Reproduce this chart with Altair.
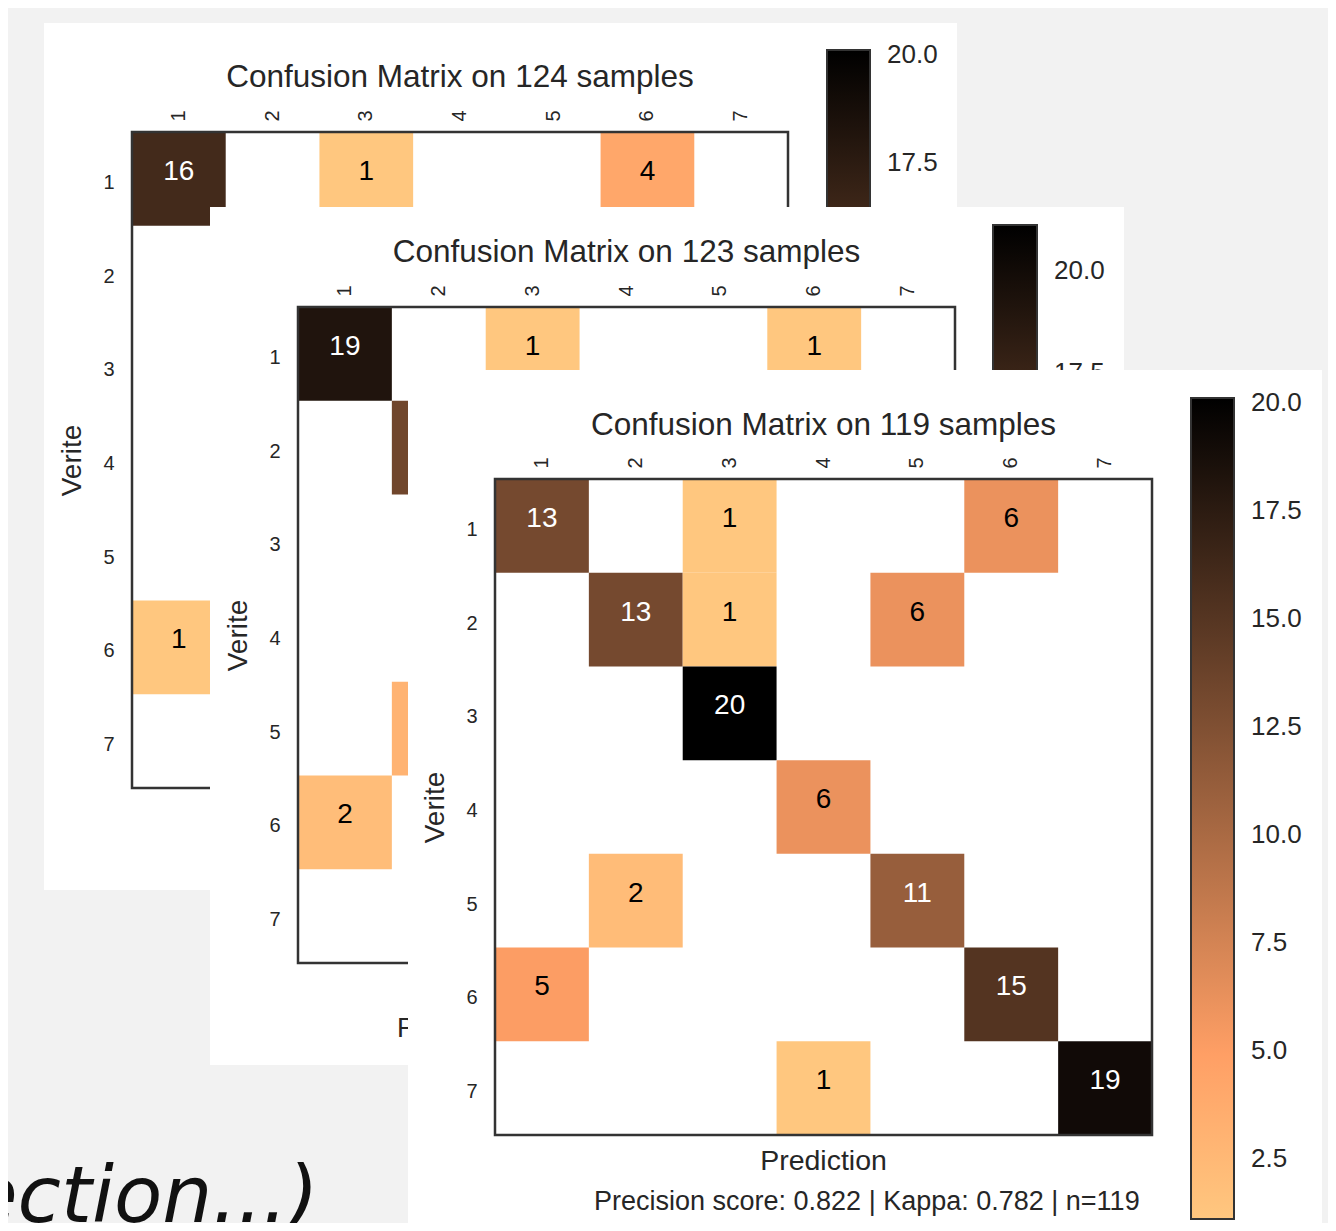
import altair as alt
import pandas as pd

OFF = 8
W, H = 1320, 1215
FONT = "Liberation Sans"
INK = "#262626"
FRAME = "#333333"

CLASS_LABELS = [1, 2, 3, 4, 5, 6, 7]
CB_TICKS = [2.5, 5.0, 7.5, 10.0, 12.5, 15.0, 17.5, 20.0]
# colorbar labels that are not hidden behind the next panel
CB_TICKS_VISIBLE = [17.5, 20.0]

# panel 1: "124 samples" (only the visible cells)
P1_ROW = [1, 1, 1, 6]
P1_COL = [1, 3, 6, 1]
P1_VAL = [16, 1, 4, 1]
P1_CB = [1, 20]

# panel 2: "123 samples" (only the visible cells)
P2_ROW = [1, 1, 1, 2, 5, 6]
P2_COL = [1, 3, 6, 2, 2, 1]
P2_VAL = [19, 1, 1, 14, 3, 2]
P2_CB = [1, 21]

# panel 3: "119 samples"
P3_ROW = [1, 1, 1, 2, 2, 2, 3, 4, 5, 5, 6, 6, 7, 7]
P3_COL = [1, 3, 6, 2, 3, 5, 3, 4, 2, 5, 1, 6, 4, 7]
P3_VAL = [13, 1, 6, 13, 1, 6, 20, 6, 2, 11, 5, 15, 1, 19]
P3_CB = [1, 20]

TITLES = ["Confusion Matrix on 124 samples",
          "Confusion Matrix on 123 samples",
          "Confusion Matrix on 119 samples"]
NOTES = ["Precision score: \u2026 | Kappa: \u2026 | n=124",
         "Precision score: \u2026 | Kappa: \u2026 | n=123",
         "Precision score: 0.822 | Kappa: 0.782 | n=119"]
X_TITLE = "Prediction"
Y_TITLE = "Verite"
SLIDE_TEXT = "ection...)"

COPPER = ["#ffc77f", "#ff9f65", "#000000"]

# layout (page pixel coordinates)
LAYOUT = [
    dict(bg=(44, 23, 957, 890), mat=(132, 132, 788, 788), cbox=(827, 50, 870, 869),
         title_dy=45, pred_dy=35, note_dy=75),
    dict(bg=(210, 207, 1124, 1065), mat=(298, 307, 955, 963), cbox=(993, 225, 1037, 1044),
         title_dy=45, pred_dy=35, note_dy=74),
    dict(bg=(408, 370, 1322, 1260), mat=(495, 479, 1152, 1135), cbox=(1191, 398, 1234, 1219),
         title_dy=44, pred_dy=35, note_dy=75),
]


def px(v):
    return v - OFF


def gradient():
    return alt.LinearGradient(
        gradient="linear", x1=0, x2=0, y1=1, y2=0,
        stops=[alt.GradientStop(offset=0, color=COPPER[0]),
               alt.GradientStop(offset=0.2, color=COPPER[1]),
               alt.GradientStop(offset=1, color=COPPER[2])])


def panel_layers(rows, cols, vals, cb, ticks, title, note, lay):
    bx0, by0, bx1, by1 = lay["bg"]
    mx0, my0, mx1, my1 = lay["mat"]
    cx0, cy0, cx1, cy1 = lay["cbox"]
    vmin, vmax = cb
    one = pd.DataFrame({"k": [0]})
    out = []

    # white panel background
    out.append(alt.Chart(one).mark_rect(color="white").encode(
        x=alt.value(px(bx0)), x2=alt.value(px(bx1)),
        y=alt.value(px(by0)), y2=alt.value(px(by1))))

    cells = pd.DataFrame({"Prediction": cols, "Verite": rows, "n": vals})
    cells["tc"] = ["white" if v >= 10 else "black" for v in vals]

    xs = alt.Scale(domain=CLASS_LABELS, range=[px(mx0), px(mx1)],
                   paddingInner=0, paddingOuter=0)
    ys = alt.Scale(domain=CLASS_LABELS, range=[px(my0), px(my1)],
                   paddingInner=0, paddingOuter=0)
    cs = alt.Scale(domain=[vmin, vmin + 0.2 * (vmax - vmin), vmax],
                   range=COPPER, interpolate="rgb")

    xaxis = alt.Axis(orient="top", offset=-px(my0), labelAngle=270,
                     labelAlign="left", labelBaseline="middle", labelPadding=11,
                     labelFont=FONT, labelFontSize=20, labelColor=INK,
                     domain=False, ticks=False, tickSize=0, grid=False,
                     title=None, zindex=1)
    yaxis = alt.Axis(orient="left", offset=-px(mx0), labelPadding=18,
                     labelOffset=4, labelFont=FONT, labelFontSize=20,
                     labelColor=INK, domain=False, ticks=False, tickSize=0,
                     grid=False, title=Y_TITLE, titleFont=FONT,
                     titleFontSize=28, titleFontWeight="normal",
                     titleColor=INK, titleAngle=270,
                     titleBaseline="alphabetic", titlePadding=22, zindex=1)

    out.append(alt.Chart(cells).mark_rect().encode(
        x=alt.X("Prediction:O", scale=xs, axis=xaxis),
        y=alt.Y("Verite:O", scale=ys, axis=yaxis),
        color=alt.Color("n:Q", scale=cs, legend=None)))

    out.append(alt.Chart(cells).mark_text(font=FONT, fontSize=28, dy=-7).encode(
        x=alt.X("Prediction:O", scale=xs, axis=None),
        y=alt.Y("Verite:O", scale=ys, axis=None),
        text=alt.Text("n:Q"),
        color=alt.Color("tc:N", scale=None)))

    # matrix frame
    out.append(alt.Chart(one).mark_rect(fillOpacity=0, stroke=FRAME,
                                        strokeWidth=2.5).encode(
        x=alt.value(px(mx0)), x2=alt.value(px(mx1)),
        y=alt.value(px(my0)), y2=alt.value(px(my1))))

    # title
    out.append(alt.Chart(pd.DataFrame({"label": [title]})).mark_text(
        font=FONT, fontSize=31.5, align="center", baseline="alphabetic",
        color=INK).encode(
        x=alt.value(px((mx0 + mx1) / 2)), y=alt.value(px(my0 - lay["title_dy"])),
        text="label:N"))

    # x title and score line
    out.append(alt.Chart(pd.DataFrame({"label": [X_TITLE]})).mark_text(
        font=FONT, fontSize=28.5, align="center", baseline="alphabetic",
        color=INK).encode(
        x=alt.value(px((mx0 + mx1) / 2)), y=alt.value(px(my1 + lay["pred_dy"])),
        text="label:N"))
    out.append(alt.Chart(pd.DataFrame({"label": [note]})).mark_text(
        font=FONT, fontSize=27, align="left", baseline="alphabetic",
        color=INK).encode(
        x=alt.value(px(mx0 + 99)), y=alt.value(px(my1 + lay["note_dy"])),
        text="label:N"))

    # colorbar
    cbs = alt.Scale(domain=[vmin, vmax], range=[px(cy1), px(cy0)],
                    nice=False, zero=False)
    out.append(alt.Chart(pd.DataFrame({"lo": [vmin], "hi": [vmax]})).mark_rect(
        fill=gradient(), stroke=FRAME, strokeWidth=2).encode(
        x=alt.value(px(cx0)), x2=alt.value(px(cx1)),
        y=alt.Y("lo:Q", scale=cbs, axis=None), y2="hi:Q"))
    out.append(alt.Chart(pd.DataFrame({"t": ticks})).mark_text(
        font=FONT, fontSize=26, align="left", baseline="middle", dy=5,
        color=INK).encode(
        x=alt.value(px(cx1 + 17)),
        y=alt.Y("t:Q", scale=cbs, axis=None),
        text=alt.Text("t:Q", format=".1f")))
    return out


layers = []
layers.append(alt.Chart(pd.DataFrame({"label": [SLIDE_TEXT]})).mark_text(
    font="DejaVu Sans", fontStyle="italic", fontSize=79, align="left",
    baseline="alphabetic", color="#111111").encode(
    x=alt.value(px(-31)), y=alt.value(px(1222)), text="label:N"))

DATA = [(P1_ROW, P1_COL, P1_VAL, P1_CB, CB_TICKS_VISIBLE),
        (P2_ROW, P2_COL, P2_VAL, P2_CB, CB_TICKS_VISIBLE),
        (P3_ROW, P3_COL, P3_VAL, P3_CB, CB_TICKS)]
for i, (r, c, v, cb, tk) in enumerate(DATA):
    layers += panel_layers(r, c, v, cb, tk, TITLES[i], NOTES[i], LAYOUT[i])

chart = alt.layer(*layers).resolve_scale(
    x="independent", y="independent", color="independent"
).properties(
    width=W, height=H, background="#f2f2f2", padding=0,
    autosize=alt.AutoSizeParams(type="none")
).configure_view(stroke=None)

chart.save("out.html", embed_options={"renderer": "svg", "actions": False})
